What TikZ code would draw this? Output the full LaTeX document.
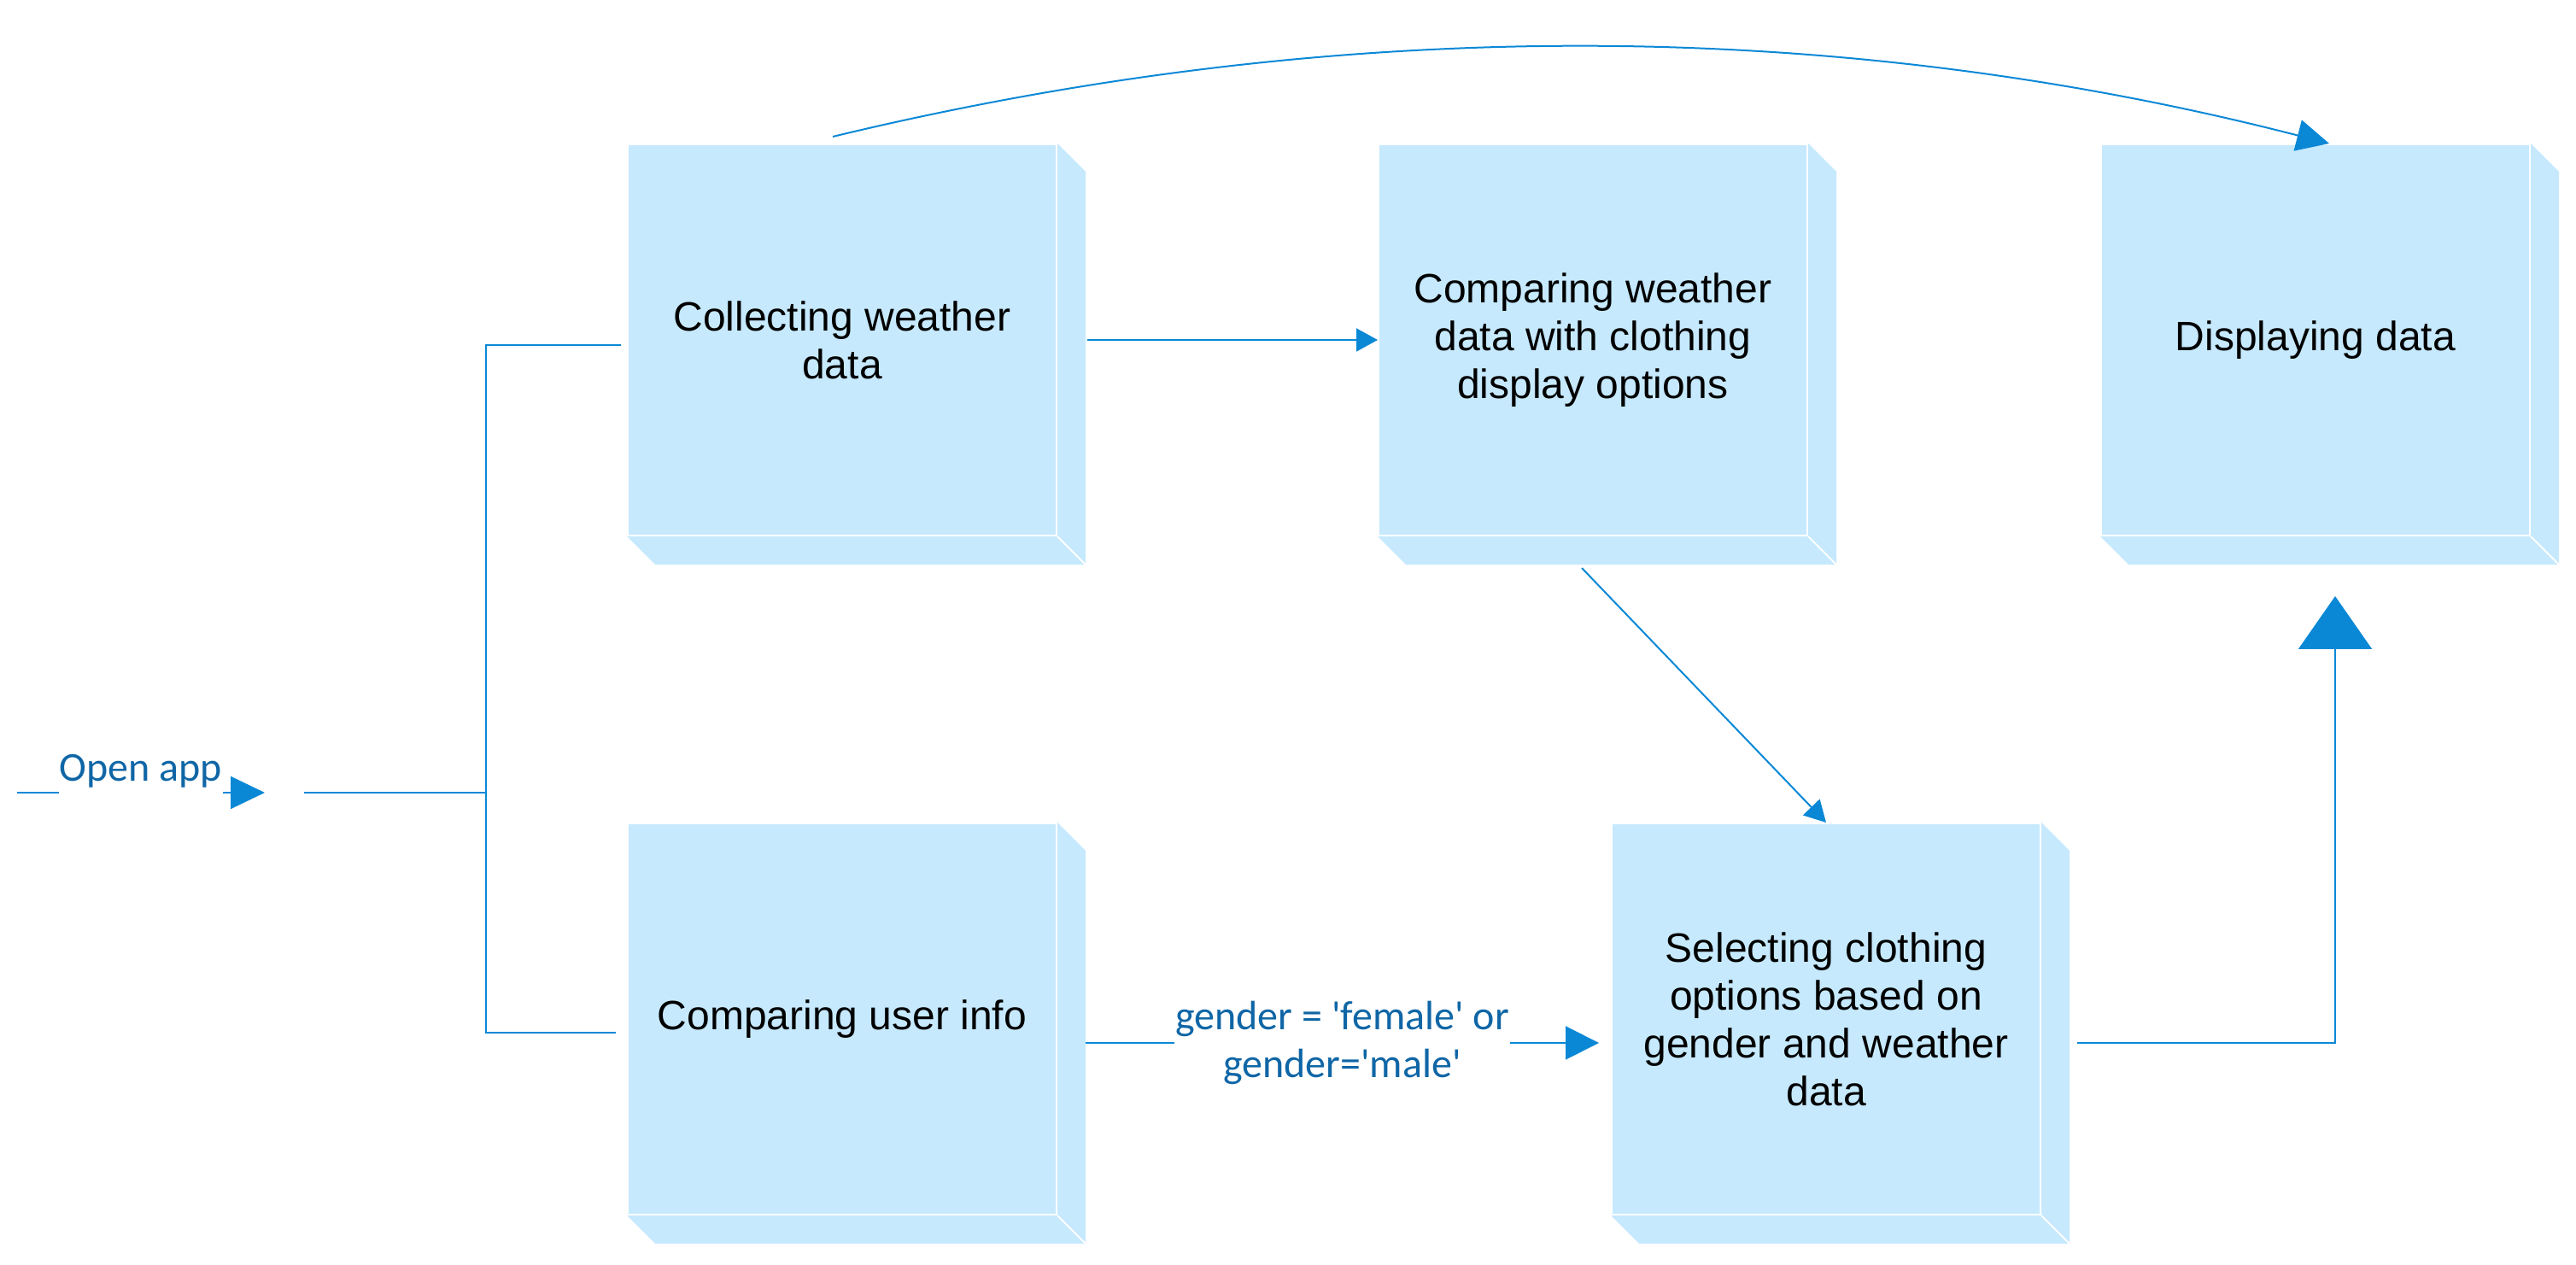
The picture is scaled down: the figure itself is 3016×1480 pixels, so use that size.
\documentclass[tikz,border=0pt]{standalone}
\usepackage{fontspec}
\setmainfont{Liberation Sans}
\newfontfamily\calibrifont{Carlito}
\usetikzlibrary{arrows.meta,backgrounds}
\definecolor{boxblue}{HTML}{C6E9FD}
\definecolor{flowblue}{HTML}{0A88D6}
\definecolor{labelblue}{HTML}{0F66A6}

\begin{document}
\begin{tikzpicture}[x=1pt,y=1pt,
  stage node/.style={rectangle,draw=white,line width=2pt,fill=boxblue,minimum width=502pt,minimum height=458pt,inner sep=0pt,align=center,font=\fontsize{48}{56}\selectfont},
  flow/.style={draw=flowblue,line width=2pt},
  small tip/.style={-{Triangle[length=25pt,width=27pt]}},
  big tip/.style={-{Triangle[length=39pt,width=39pt]}},
  cond/.style={font=\calibrifont\fontsize{48}{56}\selectfont,text=labelblue,fill=white,align=center,inner sep=1pt}]

  \useasboundingbox (0,0) rectangle (3016,1480);

  \node[stage node] (collect) at (986,1082) {Collecting weather\\data};
  \node[stage node] (compare) at (1865,1082) {Comparing weather\\data with clothing\\display options};
  \node[stage node] (display) at (2711,1082) {Displaying data};
  \node[stage node] (user) at (986,287) {Comparing user info};
  \node[stage node] (select) at (2138,287) {Selecting clothing\\options based on\\gender and weather\\data};

  % depth of the boxes
  \begin{scope}[on background layer]
  \foreach \n in {collect,compare,display,user,select}{
    \fill[boxblue] (\n.north east) -- ++(33,-33) -- ([shift={(33,-33)}]\n.south east) -- ([shift={(33,-33)}]\n.south west) -- (\n.south west) -- (\n.south east) -- cycle;
    \draw[white,line width=2pt] (\n.south east) -- ++(33,-33);
  }
  \end{scope}

  \coordinate (entry) at (20,552);
  \coordinate (entry tip) at (310,552);
  \coordinate (trunk in) at (356,552);
  \coordinate (split) at (569,552);

  \draw[flow,-{Triangle[length=40pt,width=38pt]}] (entry) -- node[cond,anchor=base,yshift=13pt,inner ysep=10pt] {Open app} (entry tip);
  \draw[flow] (trunk in) -- (split);
  \draw[flow] (split) |- ([shift={(-7,-6)}]collect.west);
  \draw[flow] (split) |- ([shift={(-13,-16)}]user.west);

  \draw[flow,small tip] ([xshift=35pt]collect.east) -- (compare.west);
  \draw[flow,-{Triangle[length=38pt,width=37pt]}] ([shift={(-11,8)}]collect.north) .. controls +(584,141) and +(-584,150) .. ([xshift=16pt]display.north);
  \draw[flow,small tip] ([shift={(-13,-37)}]compare.south) -- (select.north);
  \draw[flow,big tip] ([shift={(33,-28)}]user.east) -- node[cond] {gender = \textquotesingle female\textquotesingle{} or\\gender=\textquotesingle male\textquotesingle} ([shift={(-14,-28)}]select.west);
  \draw[flow,-{Triangle[length=62pt,width=86pt]}] ([shift={(42,-28)}]select.east) -| ([shift={(23,-70)}]display.south);
\end{tikzpicture}
\end{document}
